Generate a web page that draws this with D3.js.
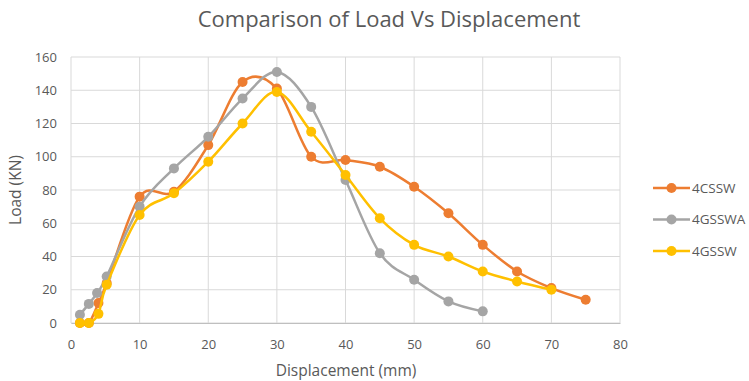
<!DOCTYPE html>
<html>
<head>
<meta charset="utf-8">
<script src="https://cdn.jsdelivr.net/npm/d3@7"></script>
<style>
  body { margin: 0; background: #fff; }
  text { font-family: "Open Sans", "Noto Sans", sans-serif; fill: #595959; }
</style>
</head>
<body>
<div id="chart"></div>
<script>
// Data
var seriesNames = ["4CSSW", "4GSSWA", "4GSSW"];
var seriesColors = ["#ED7D31", "#A5A5A5", "#FFC000"];

var cssX = [1.3, 2.6, 4, 5.2, 10, 15, 20, 25, 30, 35, 40, 45, 50, 55, 60, 65, 70, 75];
var cssY = [0, 0, 12, 24, 76, 79, 107, 145, 141, 100, 98, 94, 82, 66, 47, 31, 21, 14];

var gsswaX = [1.3, 2.6, 3.8, 5.2, 10, 15, 20, 25, 30, 35, 40, 45, 50, 55, 60];
var gsswaY = [5, 11.5, 18, 28, 70, 93, 112, 135, 151, 130, 86, 42, 26, 13, 7];

var gsswX = [1.3, 2.6, 4, 5.2, 10, 15, 20, 25, 30, 35, 40, 45, 50, 55, 60, 65, 70];
var gsswY = [0, 0, 5.5, 23, 65, 78, 97, 120, 139, 115, 89, 63, 47, 40, 31, 25, 20];

var xTicks = [0, 10, 20, 30, 40, 50, 60, 70, 80];
var yTicks = [0, 20, 40, 60, 80, 100, 120, 140, 160];

var svgWidth = 749;
var svgHeight = 381;

var margin = { top: 57, right: 129, bottom: 58, left: 71 };
var width = svgWidth - margin.left - margin.right;
var height = svgHeight - margin.top - margin.bottom;

var svg = d3.select("#chart")
    .append("svg")
    .attr("width", svgWidth)
    .attr("height", svgHeight);

var chartGroup = svg.append("g")
    .attr("transform", `translate(${margin.left}, ${margin.top})`);

var xScale = d3.scaleLinear().domain([0, 80]).range([0, width]);
var yScale = d3.scaleLinear().domain([0, 160]).range([height, 0]);

// gridlines
chartGroup.append("g")
    .selectAll("line.h")
    .data(yTicks)
    .enter()
    .append("line")
    .attr("x1", 0)
    .attr("x2", width)
    .attr("y1", d => yScale(d))
    .attr("y2", d => yScale(d))
    .attr("stroke", "#d9d9d9")
    .attr("stroke-width", 1);

chartGroup.append("g")
    .selectAll("line.v")
    .data(xTicks)
    .enter()
    .append("line")
    .attr("x1", d => xScale(d))
    .attr("x2", d => xScale(d))
    .attr("y1", 0)
    .attr("y2", height)
    .attr("stroke", "#d9d9d9")
    .attr("stroke-width", 1);

// axes
var bottomAxis = d3.axisBottom(xScale).tickValues(xTicks).tickSize(0).tickPadding(17);
var leftAxis = d3.axisLeft(yScale).tickValues(yTicks).tickSize(0).tickPadding(14);

var xAxis = chartGroup.append("g")
    .attr("transform", `translate(0, ${height})`)
    .call(bottomAxis);
xAxis.select(".domain").attr("stroke", "#bfbfbf");
xAxis.selectAll("text").attr("font-size", "13px").attr("fill", "#595959");

var yAxis = chartGroup.append("g").call(leftAxis);
yAxis.select(".domain").remove();
yAxis.selectAll("text").attr("font-size", "13px").attr("fill", "#595959");

// series
var series = [
    { name: seriesNames[0], color: seriesColors[0], xs: cssX, ys: cssY },
    { name: seriesNames[1], color: seriesColors[1], xs: gsswaX, ys: gsswaY },
    { name: seriesNames[2], color: seriesColors[2], xs: gsswX, ys: gsswY }
];

var line = d3.line()
    .x(d => xScale(d[0]))
    .y(d => yScale(d[1]))
    .curve(d3.curveCardinal.tension(0));

series.forEach(s => {
    var pts = s.xs.map((x, i) => [x, s.ys[i]]);
    chartGroup.append("path")
        .datum(pts)
        .attr("fill", "none")
        .attr("stroke", s.color)
        .attr("stroke-width", 2.5)
        .attr("d", line);
    chartGroup.append("g").selectAll("circle")
        .data(pts)
        .enter()
        .append("circle")
        .attr("cx", d => xScale(d[0]))
        .attr("cy", d => yScale(d[1]))
        .attr("r", 5)
        .attr("fill", s.color);
});

// title
svg.append("text")
    .attr("x", 389)
    .attr("y", 27)
    .attr("text-anchor", "middle")
    .attr("font-size", "22px")
    .text("Comparison of Load Vs Displacement");

// axis labels
svg.append("text")
    .attr("x", 346)
    .attr("y", 376)
    .attr("text-anchor", "middle")
    .attr("font-size", "15.5px")
    .text("Displacement (mm)");

svg.append("text")
    .attr("transform", `translate(21, ${margin.top + height / 2}) rotate(-90)`)
    .attr("text-anchor", "middle")
    .attr("font-size", "15.5px")
    .text("Load (KN)");

// legend
var legend = svg.append("g").attr("transform", "translate(653, 188)");
series.forEach((s, i) => {
    var row = legend.append("g").attr("transform", `translate(0, ${i * 31.5})`);
    row.append("line")
        .attr("x1", 0).attr("x2", 37)
        .attr("y1", 0).attr("y2", 0)
        .attr("stroke", s.color)
        .attr("stroke-width", 2.5);
    row.append("circle")
        .attr("cx", 18.5).attr("cy", 0).attr("r", 5)
        .attr("fill", s.color);
    row.append("text")
        .attr("x", 39)
        .attr("y", 4.5)
        .attr("font-size", "13.5px")
        .text(s.name);
});
</script>
</body>
</html>
